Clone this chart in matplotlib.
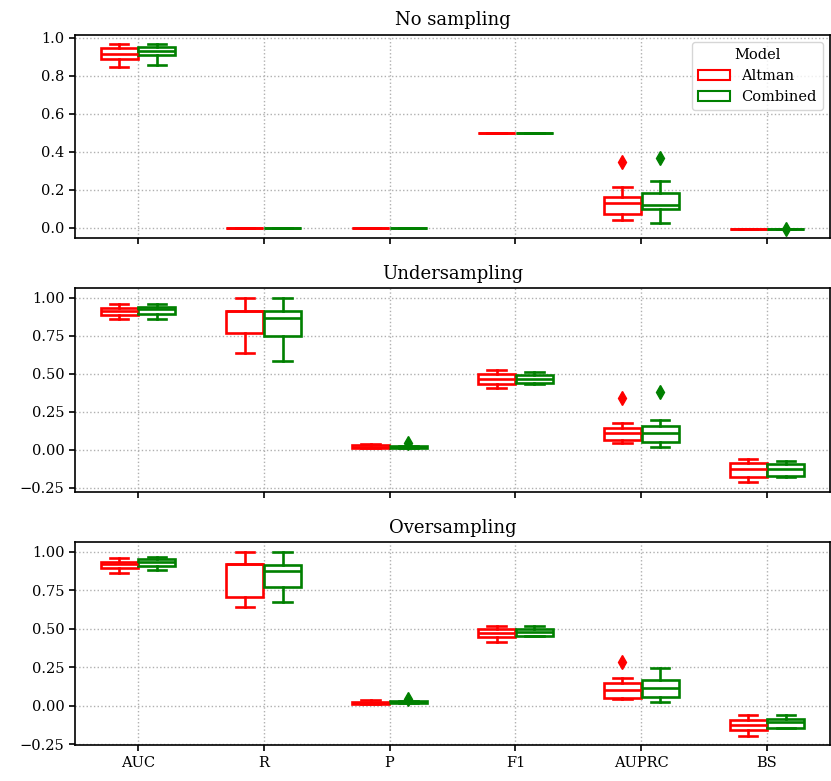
import numpy as np
import matplotlib
matplotlib.use("Agg")
import matplotlib.pyplot as plt
from matplotlib.patches import Patch

plt.rcParams['font.family'] = ['DejaVu Serif']

metrics = ["AUC", "R", "P", "F1", "AUPRC", "BS"]
models = ["Altman", "Combined"]
colors = ["red", "green"]
titles = ["No sampling", "Undersampling", "Oversampling"]

# per metric: [whisker low, q1, median, q3, whisker high]
altman_none = [[0.847, 0.886, 0.912, 0.943, 0.968], [0, 0, 0, 0, 0], [0, 0, 0, 0, 0],
               [0.5, 0.5, 0.5, 0.5, 0.5], [0.044, 0.073, 0.130, 0.161, 0.217],
               [-0.004, -0.004, -0.004, -0.004, -0.004]]
combined_none = [[0.855, 0.908, 0.929, 0.948, 0.966], [0, 0, 0, 0, 0], [0, 0, 0, 0, 0],
                 [0.5, 0.5, 0.5, 0.5, 0.5], [0.025, 0.100, 0.121, 0.182, 0.247],
                 [-0.004, -0.004, -0.004, -0.004, -0.004]]
altman_none_out = [[], [], [], [], [0.345], []]
combined_none_out = [[], [], [], [], [0.366], [-0.003]]

altman_under = [[0.862, 0.886, 0.912, 0.934, 0.958], [0.638, 0.770, 0.912, 0.912, 1.0],
                [0.010, 0.015, 0.020, 0.030, 0.040], [0.405, 0.433, 0.464, 0.497, 0.525],
                [0.044, 0.066, 0.109, 0.146, 0.175], [-0.212, -0.175, -0.127, -0.083, -0.061]]
combined_under = [[0.860, 0.892, 0.923, 0.940, 0.956], [0.586, 0.748, 0.866, 0.912, 1.0],
                  [0.012, 0.015, 0.020, 0.024, 0.028], [0.433, 0.438, 0.466, 0.492, 0.514],
                  [0.022, 0.055, 0.114, 0.157, 0.197], [-0.175, -0.171, -0.125, -0.094, -0.074]]
altman_under_out = [[], [], [], [], [0.339], []]
combined_under_out = [[], [], [0.045], [], [0.379], []]

altman_over = [[0.864, 0.892, 0.918, 0.935, 0.957], [0.639, 0.708, 0.920, 0.920, 1.0],
               [0.012, 0.015, 0.020, 0.028, 0.036], [0.416, 0.445, 0.472, 0.498, 0.520],
               [0.044, 0.049, 0.103, 0.150, 0.182], [-0.196, -0.157, -0.125, -0.092, -0.060]]
combined_over = [[0.881, 0.909, 0.931, 0.951, 0.963], [0.674, 0.769, 0.875, 0.914, 1.0],
                 [0.018, 0.020, 0.025, 0.030, 0.033], [0.455, 0.455, 0.481, 0.498, 0.518],
                 [0.027, 0.059, 0.117, 0.167, 0.243], [-0.145, -0.142, -0.107, -0.086, -0.060]]
altman_over_out = [[], [], [], [], [0.286], []]
combined_over_out = [[], [], [0.045], [], [], []]

panels = [
    (altman_none, combined_none, altman_none_out, combined_none_out),
    (altman_under, combined_under, altman_under_out, combined_under_out),
    (altman_over, combined_over, altman_over_out, combined_over_out),
]
ylims = [(-0.0525, 1.015), (-0.278, 1.061), (-0.256, 1.061)]
yticks = [np.arange(0, 1.01, 0.2), np.arange(-0.25, 1.01, 0.25), np.arange(-0.25, 1.01, 0.25)]
yfmt = ["{:.1f}", "{:.2f}", "{:.2f}"]


def make_stats(rows, outs):
    stats = []
    for r, o in zip(rows, outs):
        stats.append(dict(whislo=r[0], q1=r[1], med=r[2], q3=r[3], whishi=r[4], fliers=o))
    return stats


fig = plt.figure(figsize=(8.31, 7.81), dpi=100)
boxes = [(0.0903, 0.6953, 0.9085, 0.2603), (0.0903, 0.3697, 0.9085, 0.2612),
         (0.0903, 0.0457, 0.9085, 0.2599)]

x = np.arange(len(metrics))
w = 0.3
for k, (alt, comb, alt_o, comb_o) in enumerate(panels):
    ax = fig.add_axes(boxes[k])
    for j, (rows, outs) in enumerate([(alt, alt_o), (comb, comb_o)]):
        c = colors[j]
        pos = x + (j - 0.5) * w
        ax.bxp(make_stats(rows, outs), positions=pos, widths=w * 0.98,
               patch_artist=True, manage_ticks=False,
               boxprops=dict(facecolor="white", edgecolor=c, linewidth=1.9),
               whiskerprops=dict(color=c, linewidth=1.9),
               capprops=dict(color=c, linewidth=1.9),
               medianprops=dict(color=c, linewidth=1.9),
               flierprops=dict(marker="d", markerfacecolor=c, markeredgecolor=c,
                               markersize=7.5, linestyle="none"),
               zorder=3)
    ax.set_xlim(-0.5, 5.5)
    ax.set_ylim(*ylims[k])
    ax.set_yticks(yticks[k])
    ax.set_yticklabels([yfmt[k].format(v).replace("-", "\u2212") for v in yticks[k]])
    ax.set_xticks(x)
    if k == 2:
        ax.set_xticklabels(metrics)
    else:
        ax.set_xticklabels([])
    ax.grid(True, linestyle=":", color="#b0b0b0", linewidth=1)
    ax.set_axisbelow(True)
    ax.tick_params(labelsize=10.5, length=4, width=1.2)
    for s in ax.spines.values():
        s.set_linewidth(1.2)
    ax.set_title(titles[k], fontsize=13, pad=7)
    if k == 0:
        handles = [Patch(facecolor="white", edgecolor=colors[i], linewidth=1.5, label=models[i])
                   for i in range(2)]
        ax.legend(handles=handles, title="Model", loc="upper right", fontsize=10.5,
                  title_fontsize=10.5, framealpha=0.8, handlelength=2.2)

fig.savefig("out.png", dpi=100)
